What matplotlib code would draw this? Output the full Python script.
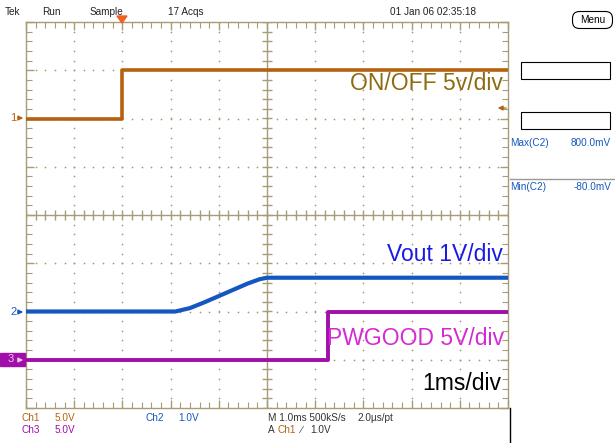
import numpy as np
import matplotlib
matplotlib.use('Agg')
import matplotlib.pyplot as plt
from matplotlib.patches import FancyBboxPatch, Rectangle, Polygon

plt.rcParams['font.family'] = ['Liberation Sans Narrow', 'Liberation Sans', 'DejaVu Sans']

# time in ms (1 ms/div, centre = 0), values in volts
ch1_t = [-5.0, -3.0, -3.0, 5.0]
ch1_v = [0.0, 0.0, 5.0, 5.0]
ch2_t = [-5.0, -1.9, -1.6, -1.3, -1.0, -0.7, -0.4, -0.15, 0.0, 5.0]
ch2_v = [0.0, 0.0, 0.07, 0.19, 0.32, 0.45, 0.58, 0.67, 0.70, 0.70]
ch3_t = [-5.0, 1.27, 1.27, 5.0]
ch3_v = [0.0, 0.0, 5.0, 5.0]

# volts/div and ground position (div) per channel
scale = {'ch1': 5.0, 'ch2': 1.0, 'ch3': 5.0}
offset = {'ch1': 2.0, 'ch2': -2.0, 'ch3': -3.0}

c_ch1 = '#B4620F'
c_ch2 = '#1557C0'
c_ch3 = '#A010A8'
c_grid = '#A89C78'

fig = plt.figure(figsize=(6.15, 4.43), dpi=100)
W, H = 615, 443
L, R, T, B = 26, 508, 22, 408
ax = fig.add_axes([L / W, 1 - B / H, (R - L) / W, (B - T) / H])
ax.set_xlim(-5, 5)
ax.set_ylim(-4, 4)

# graticule dots
gx = np.arange(-5, 5.01, 0.2)
gy = np.arange(-4, 4.01, 0.2)
for k in range(-4, 5):
    ax.scatter(gx, np.full_like(gx, k), s=1.6, color=c_grid, lw=0, zorder=1)
for k in range(-5, 6):
    ax.scatter(np.full_like(gy, k), gy, s=1.6, color=c_grid, lw=0, zorder=1)
# centre cross with ticks
ax.axhline(0, color=c_grid, lw=1.0, zorder=1)
ax.axvline(0, color=c_grid, lw=1.0, zorder=1)
ax.plot(gx, np.zeros_like(gx), ls='none', marker='|', ms=7, mew=1.0, color=c_grid, zorder=1)
ax.plot(np.zeros_like(gy), gy, ls='none', marker='_', ms=7, mew=1.0, color=c_grid, zorder=1)

for s in ax.spines.values():
    s.set_color(c_grid)
    s.set_linewidth(1.0)
ax.set_xticks(np.arange(-5, 6, 1))
ax.set_yticks(np.arange(-4, 5, 1))
ax.set_xticks(gx, minor=True)
ax.set_yticks(gy, minor=True)
ax.tick_params(which='both', direction='in', color=c_grid, top=True, right=True,
               labelbottom=False, labelleft=False)
ax.tick_params(which='major', length=6, width=1.0)
ax.tick_params(which='minor', length=4, width=0.8)

# traces
def pos(v, ch):
    return np.array(v) / scale[ch] + offset[ch]

ax.plot(ch1_t, pos(ch1_v, 'ch1'), color=c_ch1, lw=2.6, zorder=3)
ax.plot(ch2_t, pos(ch2_v, 'ch2'), color=c_ch2, lw=3.0, zorder=3)
ax.plot(ch3_t, pos(ch3_v, 'ch3'), color=c_ch3, lw=2.8, zorder=3)

# labels on graticule
big = 16.5
ax.text(4.9, 2.6, 'ON/OFF 5v/div', color='#8E6B12', fontsize=big, ha='right', va='baseline')
ax.text(4.9, -0.95, 'Vout 1V/div', color='#1A1AE6', fontsize=big, ha='right', va='baseline')
ax.text(4.92, -2.7, 'PWGOOD 5V/div', color='#D42BD4', fontsize=big, ha='right', va='baseline')
ax.text(4.85, -3.63, '1ms/div', color='black', fontsize=big, ha='right', va='baseline')

# overlay in pixel coordinates for the scope frame text
ov = fig.add_axes([0, 0, 1, 1], facecolor='none')
ov.set_xlim(0, W)
ov.set_ylim(H, 0)
ov.axis('off')

fs = 7.2
top = [(5, 'Tek'), (42, 'Run'), (90, 'Sample'), (168, '17 Acqs'), (390, '01 Jan 06 02:35:18')]
for x, s in top:
    ov.text(x, 12, s, fontsize=fs, color='#222222', va='center')
ov.add_patch(Polygon([[117, 16], [127, 16], [122, 23]], closed=True, color='#F06020', zorder=5))

ov.text(22, 418, 'Ch1', fontsize=fs, color=c_ch1, va='center')
ov.text(55, 418, '5.0V', fontsize=fs, color=c_ch1, va='center')
ov.text(22, 430, 'Ch3', fontsize=fs, color=c_ch3, va='center')
ov.text(55, 430, '5.0V', fontsize=fs, color=c_ch3, va='center')
ov.text(145, 418, 'Ch2', fontsize=fs, color=c_ch2, va='center')
ov.text(178, 418, '1.0V', fontsize=fs, color=c_ch2, va='center')
ov.text(268, 418, 'M 1.0ms 500kS/s', fontsize=fs, color='#333333', va='center')
ov.text(357, 418, '2.0\u00b5s/pt', fontsize=fs, color='#333333', va='center')
ov.text(268, 430, 'A', fontsize=fs, color='#333333', va='center')
ov.text(278, 430, 'Ch1', fontsize=fs, color=c_ch1, va='center')
ov.text(300, 430, '\u2215', fontsize=fs, color='#333333', va='center')
ov.text(310, 430, '1.0V', fontsize=fs, color='#333333', va='center')

# channel ground markers
arrow = dict(arrowstyle='-|>', lw=0.9, mutation_scale=7)
ov.text(10, 118, '1', fontsize=8, color=c_ch1, va='center')
ov.annotate('', xy=(26, 118), xytext=(15, 118), arrowprops=dict(arrow, color=c_ch1))
ov.text(10, 312, '2', fontsize=8, color=c_ch2, va='center')
ov.annotate('', xy=(26, 312), xytext=(15, 312), arrowprops=dict(arrow, color=c_ch2))
ov.add_patch(Rectangle((0, 353), 25, 13, color=c_ch3, zorder=4))
ov.text(8, 359.5, '3', fontsize=8, color='#F0C0F0', va='center', zorder=5)
ov.annotate('', xy=(26, 360), xytext=(15, 360),
            arrowprops=dict(arrow, color='#F0C0F0'), zorder=5)
# trigger level marker
ov.annotate('', xy=(495, 108), xytext=(509, 108), arrowprops=dict(arrow, color=c_ch1))

# right side panel
ov.plot([510, 510], [408, 443], color='black', lw=1.0)
ov.add_patch(FancyBboxPatch((574, 13), 37, 14, boxstyle='round,pad=1.5,rounding_size=7',
                            fc='white', ec='black', lw=0.8))
ov.text(592.5, 20, 'Menu', fontsize=fs, color='black', ha='center', va='center')
ov.add_patch(Rectangle((521, 62), 89, 17, fc='white', ec='black', lw=0.8))
ov.add_patch(Rectangle((521, 112), 89, 17, fc='white', ec='black', lw=0.8))
ov.text(510, 143, 'Max(C2)', fontsize=fs, color=c_ch2, va='center')
ov.text(571, 143, '800.0mV', fontsize=fs, color=c_ch2, va='center')
ov.plot([510, 615], [179, 179], color='#999999', lw=1.0)
ov.text(510, 187, 'Min(C2)', fontsize=fs, color=c_ch2, va='center')
ov.text(574, 187, '-80.0mV', fontsize=fs, color=c_ch2, va='center')

fig.savefig('out.png', dpi=100)
